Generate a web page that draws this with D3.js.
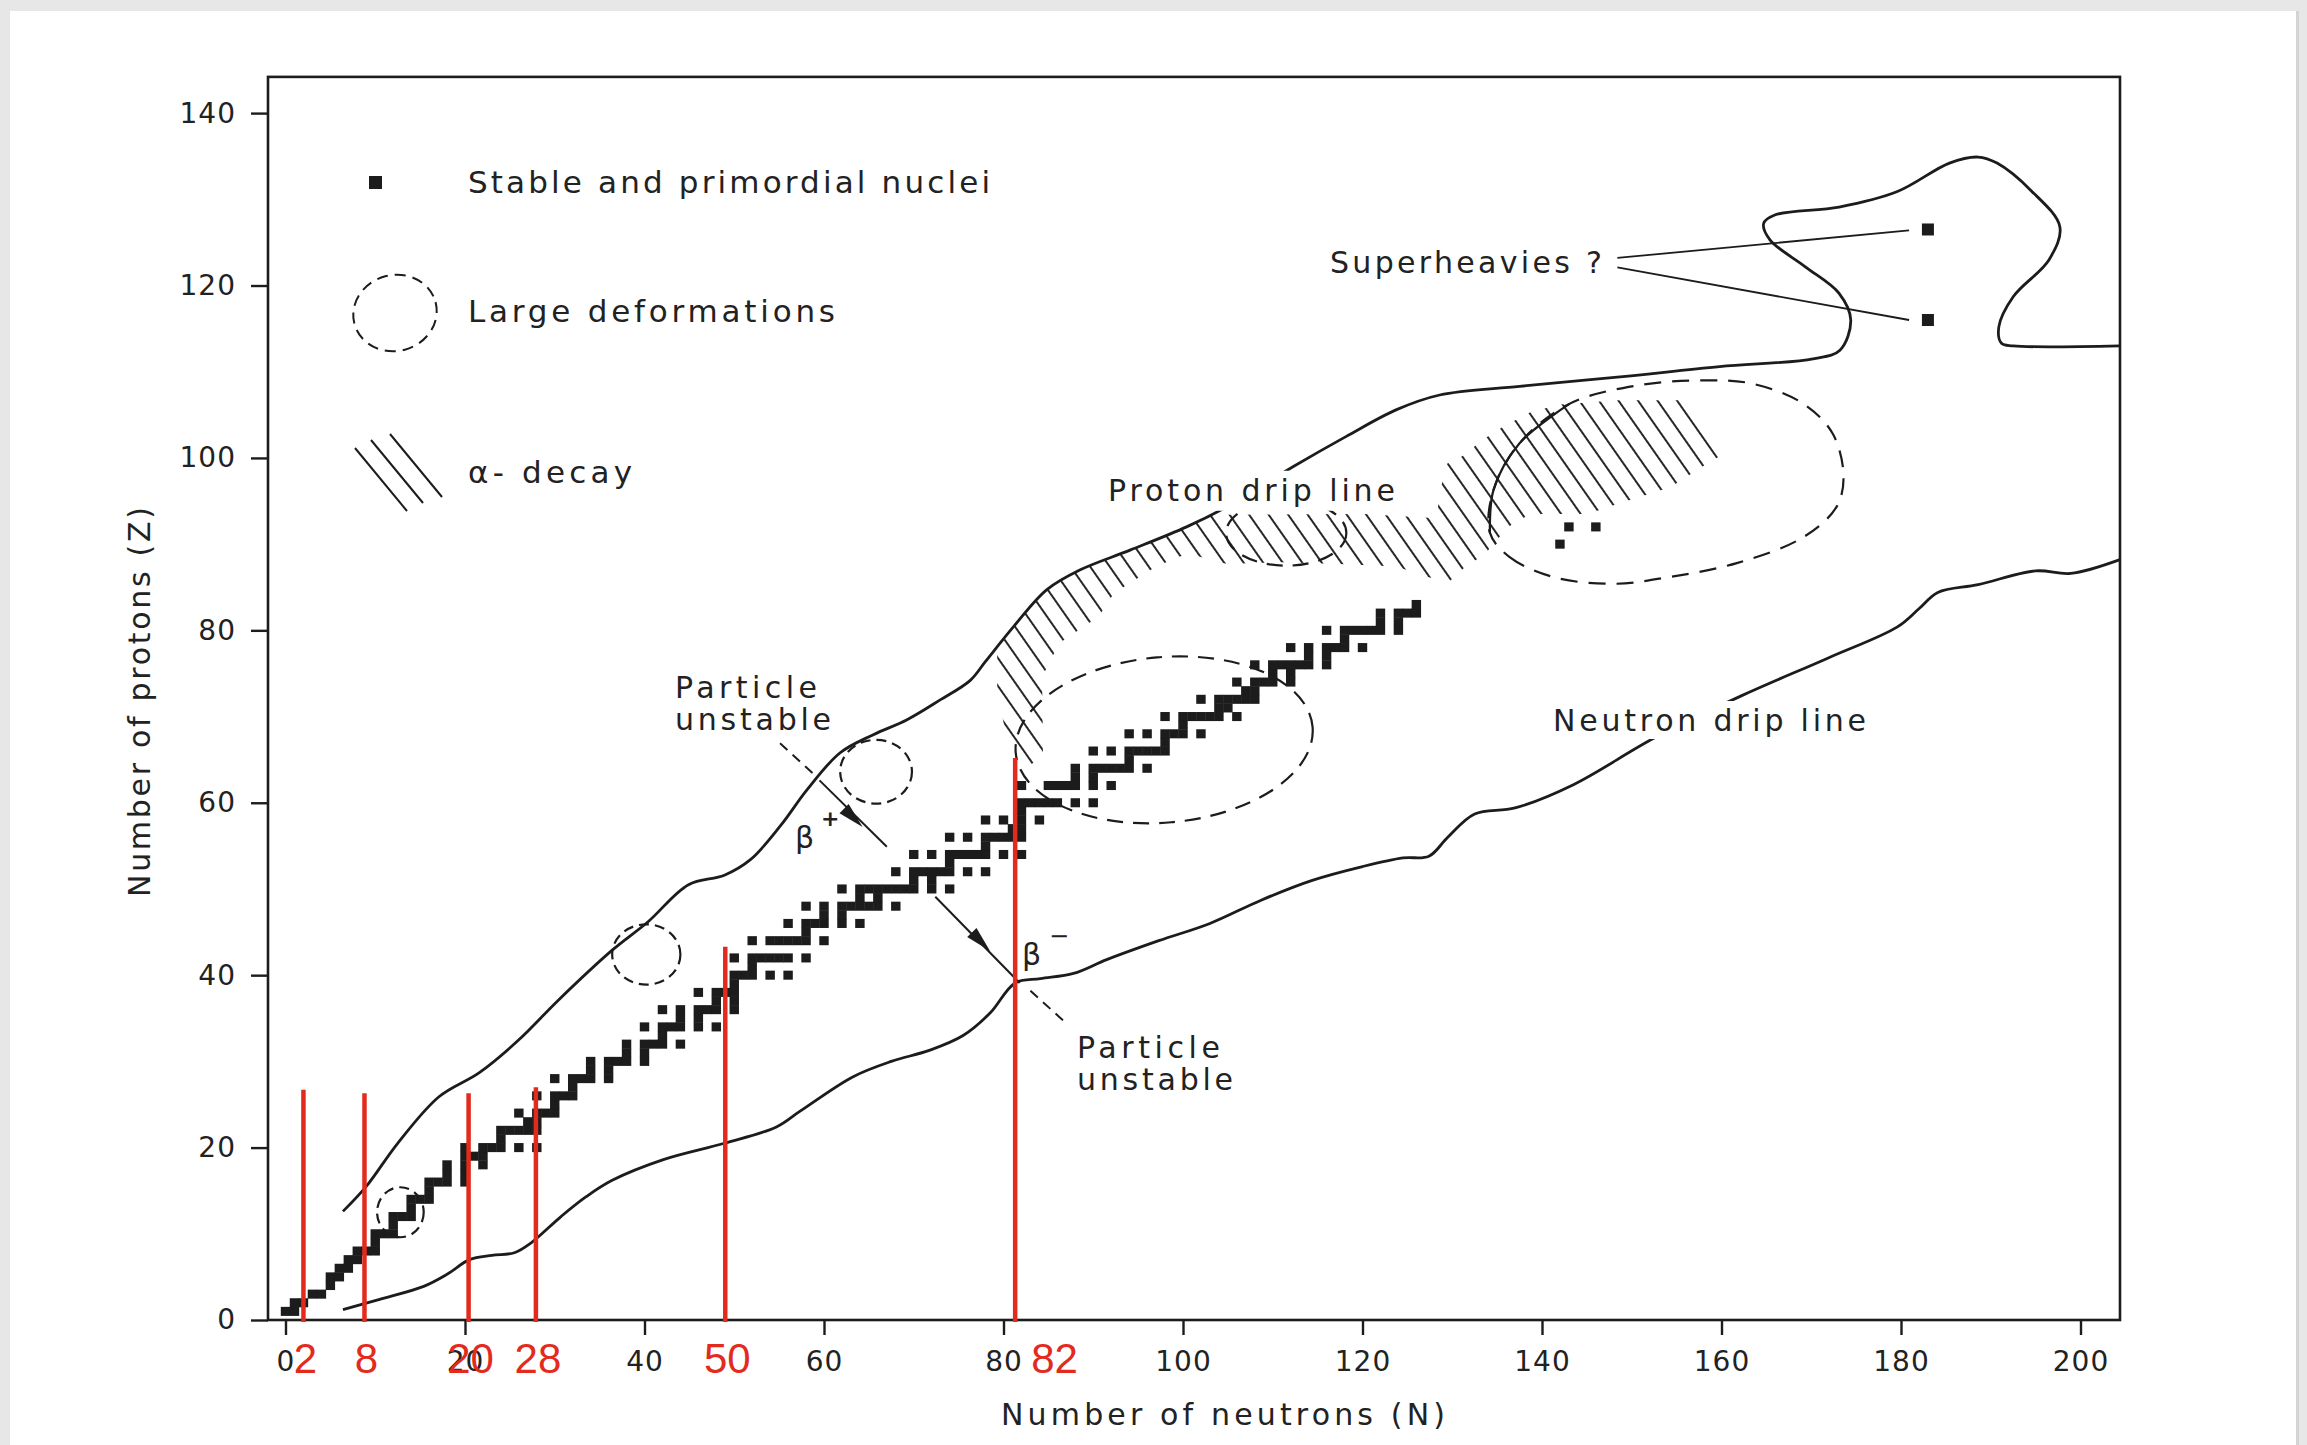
<!DOCTYPE html>
<html><head><meta charset="utf-8">
<script src="https://cdn.jsdelivr.net/npm/d3@7"></script>
<style>
html,body{margin:0;padding:0;background:#e7e7e7;overflow:hidden;}
svg{display:block;}
text{font-family:"DejaVu Sans", "Liberation Sans", Arial, sans-serif;fill:#222;}
</style></head><body>
<svg id="chart" width="2307" height="1445"></svg>
<script>
// ---------------- DATA ----------------
const xTicks = [0,20,40,60,80,100,120,140,160,180,200];
const yTicks = [0,20,40,60,80,100,120,140];

// stable and primordial nuclei: [Z, [N values]]
const stableIsotopes = [
 [1,[0,1]],[2,[1,2]],[3,[3,4]],[4,[5]],[5,[5,6]],[6,[6,7]],[7,[7,8]],[8,[8,9,10]],[9,[10]],
 [10,[10,11,12]],[11,[12]],[12,[12,13,14]],[13,[14]],[14,[14,15,16]],[15,[16]],[16,[16,17,18,20]],
 [17,[18,20]],[18,[18,20,22]],[19,[20,21,22]],[20,[20,22,23,24,26,28]],[21,[24]],[22,[24,25,26,27,28]],
 [23,[27,28]],[24,[26,28,29,30]],[25,[30]],[26,[28,30,31,32]],[27,[32]],[28,[30,32,33,34,36]],
 [29,[34,36]],[30,[34,36,37,38,40]],[31,[38,40]],[32,[38,40,41,42,44]],[33,[42]],[34,[40,42,43,44,46,48]],
 [35,[44,46]],[36,[42,44,46,47,48,50]],[37,[48,50]],[38,[46,48,49,50]],[39,[50]],[40,[50,51,52,54,56]],
 [41,[52]],[42,[50,52,53,54,55,56,58]],[44,[52,54,55,56,57,58,60]],[45,[58]],[46,[56,58,59,60,62,64]],
 [47,[60,62]],[48,[58,60,62,63,64,65,66,68]],[49,[64,66]],[50,[62,64,65,66,67,68,69,70,72,74]],
 [51,[70,72]],[52,[68,70,71,72,73,74,76,78]],[53,[74]],[54,[70,72,74,75,76,77,78,80,82]],[55,[78]],
 [56,[74,76,78,79,80,81,82]],[57,[81,82]],[58,[78,80,82,84]],[59,[82]],[60,[82,83,84,85,86,88,90]],
 [62,[82,85,86,87,88,90,92]],[63,[88,90]],[64,[88,90,91,92,93,94,96]],[65,[94]],[66,[90,92,94,95,96,97,98]],
 [67,[98]],[68,[94,96,98,99,100,102]],[69,[100]],[70,[98,100,101,102,103,104,106]],[71,[104,105]],
 [72,[102,104,105,106,107,108]],[73,[107,108]],[74,[106,108,109,110,112]],[75,[110,112]],
 [76,[108,110,111,112,113,114,116]],[77,[114,116]],[78,[112,114,116,117,118,120]],[79,[118]],
 [80,[116,118,119,120,121,122,124]],[81,[122,124]],[82,[122,124,125,126]],[83,[126]]
];
const primordialHeavy = [[142,90],[143,92],[146,92]];      // [N, Z]
const superheavyCandidates = [[183,126.5],[183,116]];       // [N, Z]

const protonDripLine = [[6.4,12.6],[9,15.5],[12.5,20.5],[17.1,25.9],[21.6,28.7],[26,32.5],[30.4,37.1],
 [36.4,42.9],[40.4,46.2],[44.9,50.5],[48.9,51.6],[51.8,53.4],[55.2,57.4],[58.1,61.5],[61.8,65.8],
 [65.5,67.9],[69.2,69.6],[72.9,71.9],[76.3,74.2],[78,76.4],[81.1,80.4],[84.8,84.7],[88.5,87.0],[94.1,89.3],
 [100.4,92.0],[105.2,94.5],[112.3,99.0],[118.2,102.5],[123.8,105.6],[128.6,107.3],[137.5,108.3],
 [148.7,109.4],[159.8,110.6],[170.2,111.5],[173.2,112.5],[174.4,116],[173.1,119.1],[169.3,122.2],
 [165.4,125.3],[164.7,127.2],[166,128.2],[173.1,129.1],[179.6,130.9],[185.4,134.2],[188.6,134.9],
 [190.7,134.2],[194.5,131],[197.7,126.8],[196.5,123],[192.5,118.7],[190.9,115.2],[191.2,113.3],
 [192.5,113],[204.4,113]];

const neutronDripLine = [[6.4,1.2],[10.5,2.4],[15.4,3.9],[18,5.3],[20.5,7.0],[23,7.5],[25.5,7.8],
 [27.3,8.9],[30.7,12.0],[33.5,14.3],[36.4,16.2],[42.1,18.6],[48.9,20.5],[54.7,22.4],[57.3,24.2],
 [63.2,28.2],[67.5,30.0],[71.8,31.3],[75.5,33.0],[78.5,35.6],[81.3,39.1],[84.1,39.6],[87.8,40.2],
 [91.5,41.8],[97.3,44.0],[103,46.0],[108.7,48.7],[114.4,51.0],[120,52.6],[124.5,53.6],[127.4,53.8],
 [129.5,56.0],[132.5,58.7],[137,59.4],[143.5,62.1],[152.5,67.5],[162.2,72.4],[171.9,76.8],
 [179.6,80.4],[182,82.5],[184.1,84.4],[188.6,85.3],[195,86.9],[198.9,86.6],[204.4,88.2]];

// large deformation regions: [N centre, Z centre, N radius, Z radius, tilt deg]
const deformationRegions = [[12.8,12.5,2.6,2.9,0],[40.2,42.4,3.8,3.5,0],[65.8,63.6,4.0,3.7,0],
 [97.9,67.3,16.6,9.6,-5],[111.5,91.3,6.7,3.8,0]];
const actinideDeformation = [[134.2,91.3],[136.4,88.5],[141.2,86.2],[147.9,85.4],[154.3,86.2],
 [161.7,87.8],[169.1,90.8],[172.8,94.3],[173.6,97.8],[172.4,102.8],[169.1,106.3],[163.5,108.6],
 [158.0,109.0],[150.6,108.4],[143.1,106.3],[137.5,101.7],[134.6,96.3]];
const alphaBoundary = [[143.1,106.3],[137.5,101.7],[134.6,96.3],[134.2,91.3]];

// alpha-decay hatched region
const alphaDecayRegion = [[79.3,77.8],[81.1,80.4],[84.8,84.7],[88.5,87.0],[94.1,89.3],[100.4,92.0],
 [103.4,93.4],[120.2,93.5],[128.2,93.0],[129.2,99.2],[131.1,100.2],[133.4,102.1],[135.6,103.6],
 [138.7,105.3],[142.0,106.2],[148.5,106.7],[156.5,106.7],[160.3,100.5],[158.2,99.2],[154.3,96.6],
 [148.2,94.6],[145.1,93.5],[138.7,93.5],[136.2,92.0],[133.6,88.8],[131.5,87.4],[129.7,85.7],
 [127.2,86.2],[123.8,87.4],[117.5,87.7],[110.8,87.9],[104.9,87.7],[100.5,88.9],[97.0,87.4],
 [92.3,84.3],[90.6,81.6],[86.2,78.5],[84.3,74.6],[84.4,65.4],[83.0,64.4],[80.3,67.8],[79.3,72.9]];

// decay arrows: [start N, start Z, end N, end Z], arrow tip [N, Z]
const betaPlusLine = [59.5,62.6,67.0,54.9];  const betaPlusTip = [64.3,57.2];
const betaMinusLine = [72.4,49.1,81.8,39.1]; const betaMinusTip = [78.5,42.8];
const leaderUpper = [55.1,66.9,59.2,63.0];
const leaderLower = [83.0,38.2,86.9,34.5];
const superheavyLeaders = [[148.4,123.2,180.9,126.4],[148.4,122.1,180.9,116.0]];

// magic numbers (red annotations)
const magicLabels = ["2","8","20","28","50","82"];
const magicN = [2,8.8,20.4,27.9,49.0,81.3];
const magicTopZ = [26.7,26.3,26.3,27.0,43.3,65.2];

// annotation texts
const annotTexts = ["Superheavies ?","Proton drip line","Particle","unstable","Particle","unstable","Neutron drip line"];
const annotN = [116.38,91.64,43.40,43.40,88.19,88.19,141.23];
const annotZ = [121.45,95.03,72.15,68.44,30.39,26.68,68.32];
const legendTexts = ["Stable and primordial nuclei","Large deformations","α- decay"];

// ---------------- LAYOUT ----------------
const svg = d3.select("#chart");
const x = d3.scaleLinear().domain([0,200]).range([285.5,2080.5]);
const y = d3.scaleLinear().domain([0,140]).range([1320,113.1]);
const frameN = [-1.95,204.4], frameZ = [0,144.2];
const ink = "#1c1c1c";

svg.append("rect").attr("x",10).attr("y",11).attr("width",2286).attr("height",1440).attr("fill","#fff");
svg.append("rect").attr("x",2296).attr("y",11).attr("width",3).attr("height",1440).attr("fill","#d4d4d4");

const defs = svg.append("defs");
const pat = defs.append("pattern").attr("id","hatch").attr("patternUnits","userSpaceOnUse")
  .attr("width",16).attr("height",16).attr("patternTransform","rotate(-35)");
pat.append("line").attr("x1",8).attr("y1",-2).attr("x2",8).attr("y2",18)
  .attr("stroke",ink).attr("stroke-width",1.9);

const g = svg.append("g");

// hatch region
g.append("path").datum(alphaDecayRegion)
  .attr("d", d3.line().x(d=>x(d[0])).y(d=>y(d[1])).curve(d3.curveLinearClosed))
  .attr("fill","url(#hatch)").attr("stroke","none");

// deformation ellipses
const ux = x(1)-x(0), uz = y(0)-y(1);
g.selectAll("ellipse.def").data(deformationRegions).join("ellipse")
  .attr("cx",d=>x(d[0])).attr("cy",d=>y(d[1]))
  .attr("rx",d=>d[2]*ux).attr("ry",d=>d[3]*uz)
  .attr("transform",d=>`rotate(${d[4]},${x(d[0])},${y(d[1])})`)
  .attr("fill","none").attr("stroke",ink).attr("stroke-width",2.2)
  .attr("stroke-dasharray",d=>d[2]>5?"16,10":"10,6");
g.append("path").datum(actinideDeformation)
  .attr("d", d3.line().x(d=>x(d[0])).y(d=>y(d[1])).curve(d3.curveCatmullRomClosed))
  .attr("fill","none").attr("stroke",ink).attr("stroke-width",2.2).attr("stroke-dasharray","17,11");
g.append("path").datum(alphaBoundary)
  .attr("d", d3.line().x(d=>x(d[0])).y(d=>y(d[1])).curve(d3.curveCatmullRom))
  .attr("fill","none").attr("stroke",ink).attr("stroke-width",2.2);

// drip lines
[protonDripLine, neutronDripLine].forEach(pts=>{
  g.append("path").datum(pts).attr("d", d3.line().x(d=>x(d[0])).y(d=>y(d[1])).curve(d3.curveCatmullRom.alpha(0.5)))
   .attr("fill","none").attr("stroke",ink).attr("stroke-width",2.8).attr("stroke-linejoin","round");
});

// annotation labels
const annotLen = [272,287,142,156,143,156,313];
annotTexts.forEach((t,i)=>{
  if (i===1 || i===6) {
    g.append("rect").attr("x",x(annotN[i])-4).attr("y",y(annotZ[i])-30)
     .attr("width",annotLen[i]+8).attr("height",i===1?40:38).attr("fill","#fff");
  }
  g.append("text").attr("x",x(annotN[i])).attr("y",y(annotZ[i]))
   .attr("textLength",annotLen[i]).attr("lengthAdjust","spacing")
   .style("font-size","30px").text(t);
});

// stable nuclei squares
const nuclei = [];
stableIsotopes.forEach(([z,ns])=>ns.forEach(n=>nuclei.push([n,z])));
primordialHeavy.forEach(p=>nuclei.push(p));
const sw = ux*1.05, sh = uz*1.05;
g.selectAll("rect.nuc").data(nuclei).join("rect").attr("class","nuc")
  .attr("x",d=>x(d[0])-sw/2).attr("y",d=>y(d[1])-sh/2).attr("width",sw).attr("height",sh).attr("fill",ink);
g.selectAll("rect.sh").data(superheavyCandidates).join("rect").attr("class","sh")
  .attr("x",d=>x(d[0])-6).attr("y",d=>y(d[1])-6).attr("width",12).attr("height",12).attr("fill",ink);

// leaders
superheavyLeaders.forEach(s=>{
  g.append("line").attr("x1",x(s[0])).attr("y1",y(s[1])).attr("x2",x(s[2])).attr("y2",y(s[3]))
   .attr("stroke",ink).attr("stroke-width",1.8);
});
[leaderUpper, leaderLower].forEach(s=>{
  g.append("line").attr("x1",x(s[0])).attr("y1",y(s[1])).attr("x2",x(s[2])).attr("y2",y(s[3]))
   .attr("stroke",ink).attr("stroke-width",2).attr("stroke-dasharray","10,7");
});
function arrow(s, tip){
  g.append("line").attr("x1",x(s[0])).attr("y1",y(s[1])).attr("x2",x(s[2])).attr("y2",y(s[3]))
   .attr("stroke",ink).attr("stroke-width",2);
  const dx = x(s[2])-x(s[0]), dy = y(s[3])-y(s[1]); const L = Math.hypot(dx,dy);
  const ux_ = dx/L, uy_ = dy/L, tx = x(tip[0]), ty = y(tip[1]);
  const bx = tx-ux_*26, by = ty-uy_*26;
  g.append("path").attr("d",`M${tx},${ty}L${bx-uy_*6.5},${by+ux_*6.5}L${bx+uy_*6.5},${by-ux_*6.5}Z`).attr("fill",ink);
}
arrow(betaPlusLine, betaPlusTip);
arrow(betaMinusLine, betaMinusTip);
g.append("text").attr("x",795).attr("y",848).style("font-size","30px").text("β");
g.append("text").attr("x",821).attr("y",826).style("font-size","22px").style("font-weight","bold").text("+");
g.append("text").attr("x",1022).attr("y",965).style("font-size","30px").text("β");
g.append("text").attr("x",1049).attr("y",944).style("font-size","24px").text("−");

// legend
const lg = svg.append("g");
lg.append("rect").attr("x",369).attr("y",176).attr("width",13).attr("height",13).attr("fill",ink);
lg.append("ellipse").attr("cx",395).attr("cy",313).attr("rx",42).attr("ry",38)
  .attr("transform","rotate(-15,395,313)")
  .attr("fill","none").attr("stroke",ink).attr("stroke-width",2).attr("stroke-dasharray","11,7");
[[355,448],[371,440],[390,434]].forEach(p=>{
  lg.append("line").attr("x1",p[0]).attr("y1",p[1]).attr("x2",p[0]+52).attr("y2",p[1]+63)
    .attr("stroke",ink).attr("stroke-width",2);
});
const legY = [193,322,483], legLen = [522,367,164];
legendTexts.forEach((t,i)=>{
  lg.append("text").attr("x",468).attr("y",legY[i]).attr("textLength",legLen[i]).attr("lengthAdjust","spacing")
    .style("font-size","31px").text(t);
});

// frame and axes
svg.append("rect").attr("x",x(frameN[0])).attr("y",y(frameZ[1]))
  .attr("width",x(frameN[1])-x(frameN[0])).attr("height",y(frameZ[0])-y(frameZ[1]))
  .attr("fill","none").attr("stroke",ink).attr("stroke-width",2.6);

const xAxis = svg.append("g").attr("transform",`translate(0,${y(0)})`)
  .call(d3.axisBottom(x).tickValues(xTicks).tickSize(15).tickPadding(16).tickFormat(d3.format("d")));
const yAxis = svg.append("g").attr("transform",`translate(${x(frameN[0])},0)`)
  .call(d3.axisLeft(y).tickValues(yTicks).tickSize(17).tickPadding(15).tickFormat(d3.format("d")));
[xAxis,yAxis].forEach(a=>{
  a.select(".domain").remove();
  a.selectAll(".tick line").attr("stroke",ink).attr("stroke-width",2.4);
  a.selectAll(".tick text").style("font-size","28px").style("letter-spacing","1px")
   .style("font-family",'"DejaVu Sans", "Liberation Sans", Arial, sans-serif').attr("fill","#222");
});

svg.append("text").attr("x",1001).attr("y",1425).attr("textLength",444).attr("lengthAdjust","spacing")
  .style("font-size","30px").text("Number of neutrons (N)");
svg.append("text").attr("transform","translate(150,897) rotate(-90)").attr("textLength",390)
  .attr("lengthAdjust","spacing").style("font-size","30px").text("Number of protons (Z)");

// magic number annotations
const red = "#e32b1d";
magicN.forEach((n,i)=>{
  svg.append("line").attr("x1",x(n)).attr("x2",x(n)).attr("y1",y(magicTopZ[i])).attr("y2",y(0)+2)
    .attr("stroke",red).attr("stroke-width",4.5);
  const last = i===magicN.length-1;
  svg.append("text").attr("x",last? x(n)+16 : x(n)+2).attr("y",1373)
    .attr("text-anchor",last?"start":"middle")
    .style("font-family",'"Liberation Sans", Arial, sans-serif')
    .style("font-size","42px").style("fill",red)
    .text(magicLabels[i]);
});
</script>
</body></html>
